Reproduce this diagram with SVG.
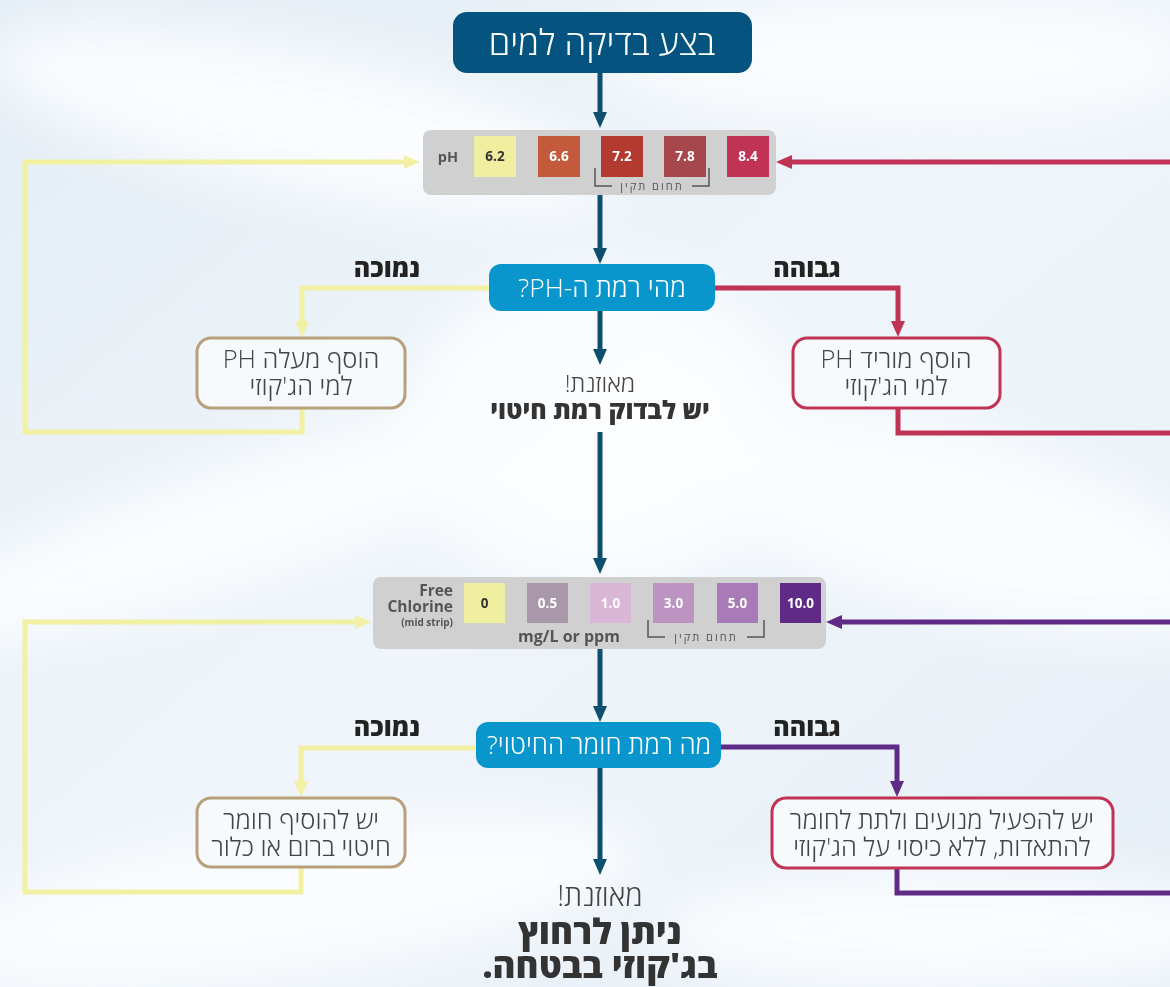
<svg xmlns="http://www.w3.org/2000/svg" width="1170" height="987" viewBox="0 0 1170 987">
<style>
.he{font-family:"Open Sans","DejaVu Sans",sans-serif;direction:rtl;text-anchor:middle}
.lt{font-weight:300}
.bd{font-weight:800}
.sw{font-family:"Open Sans","Liberation Sans",sans-serif;font-weight:700;font-size:13.5px;text-anchor:middle;fill:#fff}
.lab{font-family:"Open Sans","Liberation Sans",sans-serif;font-weight:700;fill:#555}
.br{fill:none;stroke:#555;stroke-width:1.5}
.c{fill:none;stroke-width:5;stroke-linejoin:miter}
.dk{stroke:#0d4f6e}
.yl{stroke:#f2f0a2}
.rd{stroke:#c03355}
.pu{stroke:#5f2b87}
.box{fill:#f7fafc;stroke-width:3}
.bt{font-size:25.5px;fill:#444}
</style>
<defs>
<linearGradient id="bg" x1="0" y1="0" x2="1" y2="1">
<stop offset="0" stop-color="#e4edf5"/>
<stop offset="0.5" stop-color="#eff5fa"/>
<stop offset="1" stop-color="#e6eef6"/>
</linearGradient>
<filter id="blur" x="-20%" y="-20%" width="140%" height="140%"><feGaussianBlur stdDeviation="28"/></filter>
<marker id="mDk" markerUnits="userSpaceOnUse" markerWidth="16" markerHeight="14" refX="6" refY="7" orient="auto"><path d="M0,0 L16,7 L0,14 z" fill="#0d4f6e"/></marker>
<marker id="mYl" markerUnits="userSpaceOnUse" markerWidth="16" markerHeight="14" refX="6" refY="7" orient="auto"><path d="M0,0 L16,7 L0,14 z" fill="#f2f0a2"/></marker>
<marker id="mRd" markerUnits="userSpaceOnUse" markerWidth="16" markerHeight="14" refX="6" refY="7" orient="auto"><path d="M0,0 L16,7 L0,14 z" fill="#c03355"/></marker>
<marker id="mPu" markerUnits="userSpaceOnUse" markerWidth="16" markerHeight="14" refX="6" refY="7" orient="auto"><path d="M0,0 L16,7 L0,14 z" fill="#5f2b87"/></marker>
</defs>

<g id="background">
<rect width="1170" height="987" fill="url(#bg)"/>
<g filter="url(#blur)" fill="#fbfdff" opacity="0.95">
<ellipse cx="300" cy="120" rx="320" ry="70" transform="rotate(12 300 120)"/>
<ellipse cx="900" cy="60" rx="300" ry="60"/>
<ellipse cx="250" cy="520" rx="380" ry="60" transform="rotate(-18 250 520)"/>
<ellipse cx="950" cy="520" rx="300" ry="90" transform="rotate(15 950 520)"/>
<ellipse cx="600" cy="430" rx="200" ry="160"/>
<ellipse cx="300" cy="900" rx="350" ry="70" transform="rotate(-8 300 900)"/>
<ellipse cx="950" cy="930" rx="300" ry="60"/>
</g>
</g>

<g id="connectors">
<path class="c dk" d="M600,73 V118" marker-end="url(#mDk)"/>
<path class="c dk" d="M600,195 V254" marker-end="url(#mDk)"/>
<path class="c dk" d="M600,311 V355" marker-end="url(#mDk)"/>
<path class="c dk" d="M600,432 V564" marker-end="url(#mDk)"/>
<path class="c dk" d="M600,649 V712" marker-end="url(#mDk)"/>
<path class="c dk" d="M600,768 V865" marker-end="url(#mDk)"/>
<path class="c yl" d="M489,288 H302 V327" marker-end="url(#mYl)"/>
<path class="c yl" d="M302,408 V432 H25 V162 H410" marker-end="url(#mYl)"/>
<path class="c rd" d="M715,288 H898 V327" marker-end="url(#mRd)"/>
<path class="c rd" d="M898,408 V433 H1190 V162 H786" marker-end="url(#mRd)"/>
<path class="c yl" d="M476,748 H301 V787" marker-end="url(#mYl)"/>
<path class="c yl" d="M301,867 V892 H25 V622 H361" marker-end="url(#mYl)"/>
<path class="c pu" d="M721,747 H897 V787" marker-end="url(#mPu)"/>
<path class="c pu" d="M897,868 V893 H1190 V622 H836" marker-end="url(#mPu)"/>
</g>

<g id="start">
<rect x="453" y="12" width="299" height="61" rx="14" fill="#04547f"/>
<text class="he lt" x="602" y="55" font-size="35" fill="#fff">בצע בדיקה למים</text>
</g>

<g id="ph-strip">
<rect x="423" y="130" width="353" height="65" rx="8" fill="#d0d0d0"/>
<text class="lab" x="448" y="162" font-size="14.5" text-anchor="middle">pH</text>
<rect x="474" y="136" width="42" height="41" fill="#f0ef9f"/>
<rect x="538" y="136" width="42" height="41" fill="#c45a3c"/>
<rect x="601" y="136" width="42" height="41" fill="#b23a2f"/>
<rect x="664" y="136" width="42" height="41" fill="#a5474b"/>
<rect x="727" y="136" width="42" height="41" fill="#c03355"/>
<text class="sw" x="495" y="161" style="fill:#333">6.2</text>
<text class="sw" x="559" y="161">6.6</text>
<text class="sw" x="622" y="161">7.2</text>
<text class="sw" x="685" y="161">7.8</text>
<text class="sw" x="748" y="161">8.4</text>
<path class="br" d="M595,168 V186 H612 M692,186 H709 V168"/>
<text class="he" x="652" y="190" font-size="11" fill="#555" letter-spacing="2">תחום תקין</text>
</g>

<g id="ph-question">
<rect x="489" y="264" width="226" height="47" rx="12" fill="#0896cc"/>
<text class="he lt" x="602" y="297" font-size="26.5" fill="#fff">מהי רמת ה-PH?</text>
</g>

<g id="ph-low-label">
<text class="he bd" x="387" y="277" font-size="25" fill="#222">נמוכה</text>
</g>
<g id="ph-high-label">
<text class="he bd" x="807" y="277" font-size="25" fill="#222">גבוהה</text>
</g>

<g id="ph-raise">
<rect x="197" y="338" width="208" height="70" rx="14" class="box" stroke="#b8a07a"/>
<text class="he lt bt" x="301" y="368">הוסף מעלה PH</text>
<text class="he lt bt" x="301" y="395">למי הג'קוזי</text>
</g>

<g id="ph-lower">
<rect x="793" y="338" width="207" height="70" rx="14" class="box" stroke="#c03355"/>
<text class="he lt bt" x="896" y="368">הוסף מוריד PH</text>
<text class="he lt bt" x="896" y="395">למי הג'קוזי</text>
</g>

<g id="ph-balanced">
<text class="he lt" x="600" y="392" font-size="24" fill="#444">מאוזנת!</text>
<text class="he bd" x="600" y="419" font-size="25" fill="#333">יש לבדוק רמת חיטוי</text>
</g>

<g id="chlorine-strip">
<rect x="373" y="577" width="453" height="72" rx="8" fill="#d0d0d0"/>
<text class="lab" x="453" y="596" font-size="15.5" text-anchor="end">Free</text>
<text class="lab" x="453" y="612" font-size="15.5" text-anchor="end">Chlorine</text>
<text class="lab" x="453" y="626" font-size="10" text-anchor="end">(mid strip)</text>
<rect x="464" y="583" width="41" height="40" fill="#f0ef9f"/>
<rect x="527" y="583" width="41" height="40" fill="#a998a9"/>
<rect x="590" y="583" width="41" height="40" fill="#d9b6d5"/>
<rect x="653" y="583" width="41" height="40" fill="#bc93c1"/>
<rect x="717" y="583" width="41" height="40" fill="#a87ab7"/>
<rect x="780" y="583" width="41" height="40" fill="#5f2b87"/>
<text class="sw" x="484.5" y="608" style="fill:#333">0</text>
<text class="sw" x="547.5" y="608">0.5</text>
<text class="sw" x="610.5" y="608">1.0</text>
<text class="sw" x="673.5" y="608">3.0</text>
<text class="sw" x="737.5" y="608">5.0</text>
<text class="sw" x="800.5" y="608">10.0</text>
<text class="lab" x="569" y="642" font-size="16" text-anchor="middle">mg/L or ppm</text>
<path class="br" d="M648,620 V637 H665 M747,637 H764 V620"/>
<text class="he" x="706" y="641" font-size="11" fill="#555" letter-spacing="2">תחום תקין</text>
</g>

<g id="chlorine-question">
<rect x="476" y="722" width="245" height="46" rx="12" fill="#0896cc"/>
<text class="he lt" x="599" y="754" font-size="26" fill="#fff">מה רמת חומר החיטוי?</text>
</g>

<g id="cl-low-label">
<text class="he bd" x="387" y="736" font-size="25" fill="#222">נמוכה</text>
</g>
<g id="cl-high-label">
<text class="he bd" x="807" y="736" font-size="25" fill="#222">גבוהה</text>
</g>

<g id="cl-add">
<rect x="197" y="798" width="208" height="69" rx="14" class="box" stroke="#b8a07a"/>
<text class="he lt bt" x="301" y="829">יש להוסיף חומר</text>
<text class="he lt bt" x="301" y="856">חיטוי ברום או כלור</text>
</g>

<g id="cl-evaporate">
<rect x="772" y="798" width="341" height="70" rx="14" class="box" stroke="#c03355"/>
<text class="he lt bt" x="942" y="829">יש להפעיל מנועים ולתת לחומר</text>
<text class="he lt bt" x="942" y="856">להתאדות, ללא כיסוי על הג'קוזי</text>
</g>

<g id="final">
<text class="he lt" x="600" y="906" font-size="29" fill="#444">מאוזנת!</text>
<text class="he bd" x="600" y="944" font-size="35" fill="#333">ניתן לרחוץ</text>
<text class="he bd" x="600" y="978" font-size="35" fill="#333">בג'קוזי בבטחה.</text>
</g>
</svg>
